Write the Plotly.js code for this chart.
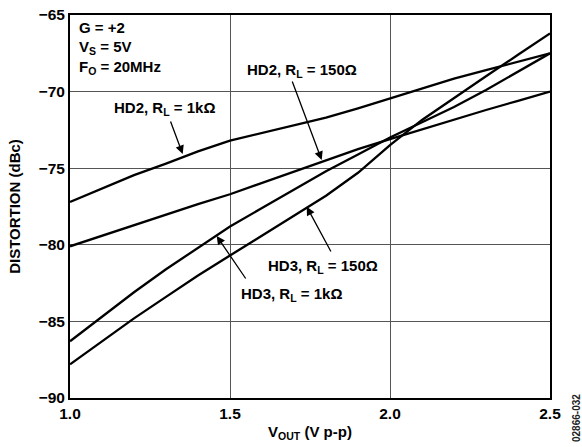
<!DOCTYPE html>
<html>
<head>
<meta charset="utf-8">
<script src="https://cdn.plot.ly/plotly-3.0.1.min.js"></script>
<style>html,body{margin:0;padding:0;background:#fff}#chart{width:582px;height:447px}</style>
</head>
<body>
<div id="chart"></div>
<script>
// Data
const vout = [1.0, 1.1, 1.2, 1.3, 1.4, 1.5, 1.6, 1.7, 1.8, 1.9, 2.0, 2.1, 2.2, 2.3, 2.4, 2.5];
const hd2_1k   = [-77.2, -76.3, -75.45, -74.7, -73.9, -73.2, -72.7, -72.2, -71.7, -71.1, -70.45, -69.75, -69.15, -68.6, -68.05, -67.5];
const hd2_150  = [-80.1, -79.4, -78.7, -78.0, -77.35, -76.7, -75.95, -75.2, -74.45, -73.75, -73.1, -72.45, -71.85, -71.2, -70.6, -70.0];
const hd3_1k   = [-86.3, -84.7, -83.1, -81.6, -80.2, -78.8, -77.6, -76.4, -75.2, -74.1, -73.0, -72.0, -71.0, -69.9, -68.7, -67.5];
const hd3_150  = [-87.8, -86.3, -84.8, -83.4, -82.0, -80.7, -79.4, -78.1, -76.8, -75.3, -73.5, -71.85, -70.4, -69.0, -67.6, -66.2];
const xTicks = [1.0, 1.5, 2.0, 2.5];
const yTicks = [-90, -85, -80, -75, -70, -65];
const seriesNames = ['HD2, R<sub>L</sub> = 1kΩ', 'HD2, R<sub>L</sub> = 150Ω', 'HD3, R<sub>L</sub> = 1kΩ', 'HD3, R<sub>L</sub> = 150Ω'];
const condLines = ['G = +2', 'V<sub>S</sub> = 5V', 'F<sub>O</sub> = 20MHz'];

const W = 582, H = 447;
const M = {l: 70, r: 32, t: 15, b: 49};
const PW = W - M.l - M.r, PH = H - M.t - M.b;
const px = x => (x - M.l) / PW;          // pixel -> paper x
const py = y => (H - M.b - y) / PH;      // pixel -> paper y

const FONT = 'Liberation Sans, Arial, Helvetica, sans-serif';
const lineStyle = {color: '#000', width: 2.3, shape: 'linear'};

const traces = [hd2_1k, hd2_150, hd3_1k, hd3_150].map((ys, i) => ({
  x: vout, y: ys, type: 'scatter', mode: 'lines', name: seriesNames[i],
  line: lineStyle, hoverinfo: 'skip'
}));

function label(text, left, cy) {
  return {text: text, xref: 'paper', yref: 'paper', x: px(left), y: py(cy),
    xanchor: 'left', yanchor: 'middle', showarrow: false,
    font: {family: FONT, size: 15, color: '#000', weight: 'bold'}};
}
function arrow(tipX, tipY, tailX, tailY) {
  return {text: '', xref: 'paper', yref: 'paper', x: px(tipX), y: py(tipY),
    ax: tailX - tipX, ay: tailY - tipY, showarrow: true,
    arrowhead: 2, arrowsize: 1.3, arrowwidth: 1.3, arrowcolor: '#000', standoff: 0};
}

const annotations = [
  label(condLines[0], 77, 27),
  label(condLines[1], 77, 48),
  label(condLines[2], 77, 67),
  label(seriesNames[0], 112, 108),
  label(seriesNames[1], 245, 70),
  label(seriesNames[3], 266, 266),
  label(seriesNames[2], 239, 294),
  arrow(182.7, 154, 170, 120),
  arrow(321.7, 160, 291.7, 80),
  arrow(306.7, 206.7, 331.7, 253),
  arrow(216.7, 236, 246.7, 280),
  {text: '02866-032', xref: 'paper', yref: 'paper', x: px(576), y: py(418),
   xanchor: 'center', yanchor: 'middle', textangle: -90, showarrow: false,
   font: {family: FONT, size: 10, color: '#222'}}
];

const layout = {
  width: W, height: H,
  margin: M,
  paper_bgcolor: '#fff', plot_bgcolor: '#fff',
  showlegend: false,
  font: {family: FONT, size: 15, color: '#000', weight: 'bold'},
  xaxis: {
    range: [1.0, 2.5], tickvals: xTicks, ticktext: xTicks.map(v => v.toFixed(1)),
    showgrid: true, gridcolor: '#555', gridwidth: 1,
    showline: true, linecolor: '#000', linewidth: 2, mirror: true,
    ticks: '', zeroline: false,
    tickfont: {family: FONT, size: 15.5, color: '#000', weight: 'bold'},
    title: {text: 'V<sub>OUT</sub> (V p-p)', standoff: 6,
      font: {family: FONT, size: 15, color: '#000', weight: 'bold'}}
  },
  yaxis: {
    range: [-90, -65], tickvals: yTicks,
    showgrid: true, gridcolor: '#555', gridwidth: 1,
    showline: true, linecolor: '#000', linewidth: 2, mirror: true,
    ticks: '', zeroline: false,
    tickfont: {family: FONT, size: 15.5, color: '#000', weight: 'bold'},
    title: {text: 'DISTORTION (dBc)', standoff: 14,
      font: {family: FONT, size: 15, color: '#000', weight: 'bold'}}
  },
  annotations: annotations
};

Plotly.newPlot('chart', traces, layout, {displayModeBar: false, staticPlot: true});
</script>
</body>
</html>
